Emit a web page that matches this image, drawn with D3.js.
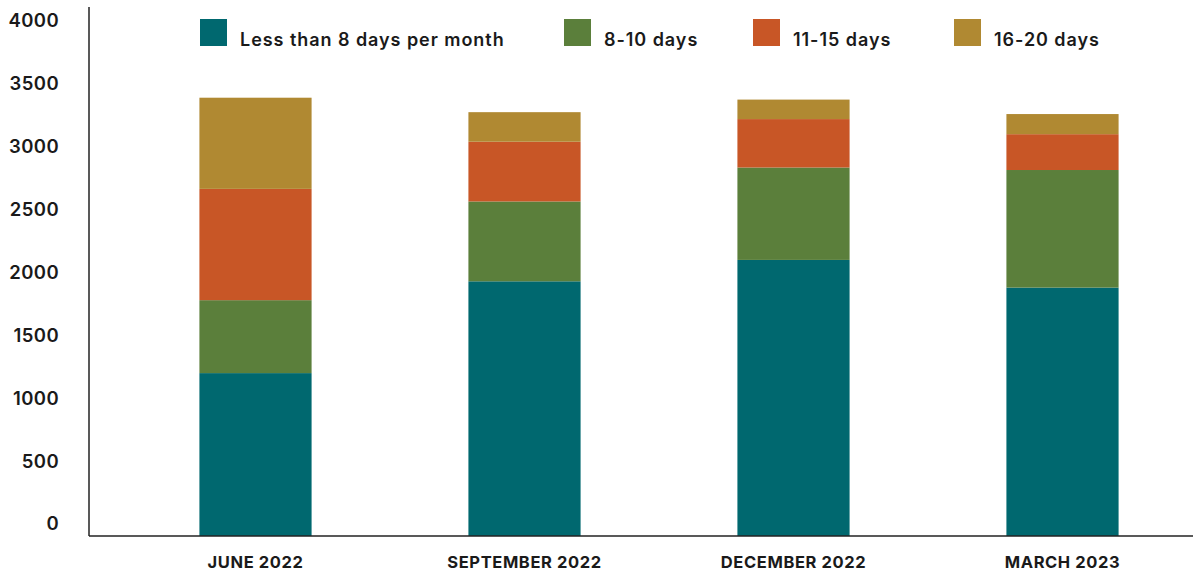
<!DOCTYPE html>
<html>
<head>
<meta charset="utf-8">
<script src="https://cdn.jsdelivr.net/npm/d3@7/dist/d3.min.js"></script>
<style>
  html, body { margin: 0; padding: 0; background: #fff; }
  svg { display: block; font-family: Inter, "Noto Sans", sans-serif; }
</style>
</head>
<body>
<svg id="chart" width="1193" height="574"></svg>
<script>
// ---- data ----
const categories = ["JUNE 2022", "SEPTEMBER 2022", "DECEMBER 2022", "MARCH 2023"];
const seriesNames = ["Less than 8 days per month", "8-10 days", "11-15 days", "16-20 days"];
const lessThan8 = [1200, 1930, 2100, 1880];
const days8to10 = [580, 635, 735, 935];
const days11to15 = [885, 475, 385, 285];
const days16to20 = [725, 235, 155, 160];
const yTicks = [0, 500, 1000, 1500, 2000, 2500, 3000, 3500, 4000];

// ---- styles ----
const colors = ["#00686f", "#5b7f3b", "#c85626", "#b08932"];
const textColor = "#1a1a1a";

const seriesValues = [lessThan8, days8to10, days11to15, days16to20];
const rows = categories.map((c, i) => {
  const r = { cat: c };
  seriesNames.forEach((s, j) => { r[s] = seriesValues[j][i]; });
  return r;
});

const svg = d3.select("#chart");
const W = 1193, H = 574;
const axisX = 89, axisY = 536;

const y = d3.scaleLinear().domain([0, 4000]).range([524, 21]);
const baseline = axisY; // bars rest on the axis line
const x = d3.scaleBand().domain(categories).range([121, 1197])
  .paddingInner(0.583).paddingOuter(0.2915);

const stack = d3.stack().keys(seriesNames)(rows);

svg.append("g").selectAll("g").data(stack).join("g")
  .attr("fill", (d, i) => colors[i])
  .selectAll("rect").data(d => d).join("rect")
  .attr("x", d => x(d.data.cat))
  .attr("width", x.bandwidth())
  .attr("y", d => y(d[1]))
  .attr("height", d => (d[0] === 0 ? baseline : y(d[0])) - y(d[1]));

// y axis labels
const yAxis = d3.axisLeft(y).tickValues(yTicks).tickSize(0).tickPadding(0).tickFormat(d3.format("d"));
const gy = svg.append("g").attr("transform", `translate(59,0)`).call(yAxis);
gy.select(".domain").remove();
gy.selectAll("text")
  .attr("fill", textColor)
  .attr("font-family", "Inter, sans-serif")
  .attr("font-size", 18.5)
  .attr("font-weight", 600)
  .attr("letter-spacing", 0.4);

// axis lines
svg.append("line").attr("x1", axisX).attr("x2", axisX).attr("y1", 7).attr("y2", axisY)
  .attr("stroke", "#222").attr("stroke-width", 1.5);
svg.append("line").attr("x1", axisX).attr("x2", W).attr("y1", axisY).attr("y2", axisY)
  .attr("stroke", "#222").attr("stroke-width", 1.5);

// x axis labels
const xAxis = d3.axisBottom(x).tickSize(0).tickPadding(0);
const gx = svg.append("g").attr("transform", `translate(0,562)`).call(xAxis);
gx.select(".domain").remove();
gx.selectAll("text")
  .attr("dy", "0.35em")
  .attr("fill", textColor)
  .attr("font-family", "Inter, sans-serif")
  .attr("font-size", 16.5)
  .attr("font-weight", 700)
  .attr("letter-spacing", 0.6);

// legend
const legendX = [200, 564, 753, 954];
const lg = svg.append("g").selectAll("g").data(seriesNames).join("g")
  .attr("transform", (d, i) => `translate(${legendX[i]},19)`);
lg.append("rect").attr("width", 27).attr("height", 27).attr("fill", (d, i) => colors[i]);
lg.append("text").attr("x", 40).attr("y", 27)
  .attr("fill", textColor)
  .attr("font-size", 18)
  .attr("font-weight", 600)
  .attr("letter-spacing", 0.95)
  .text(d => d);
</script>
</body>
</html>
